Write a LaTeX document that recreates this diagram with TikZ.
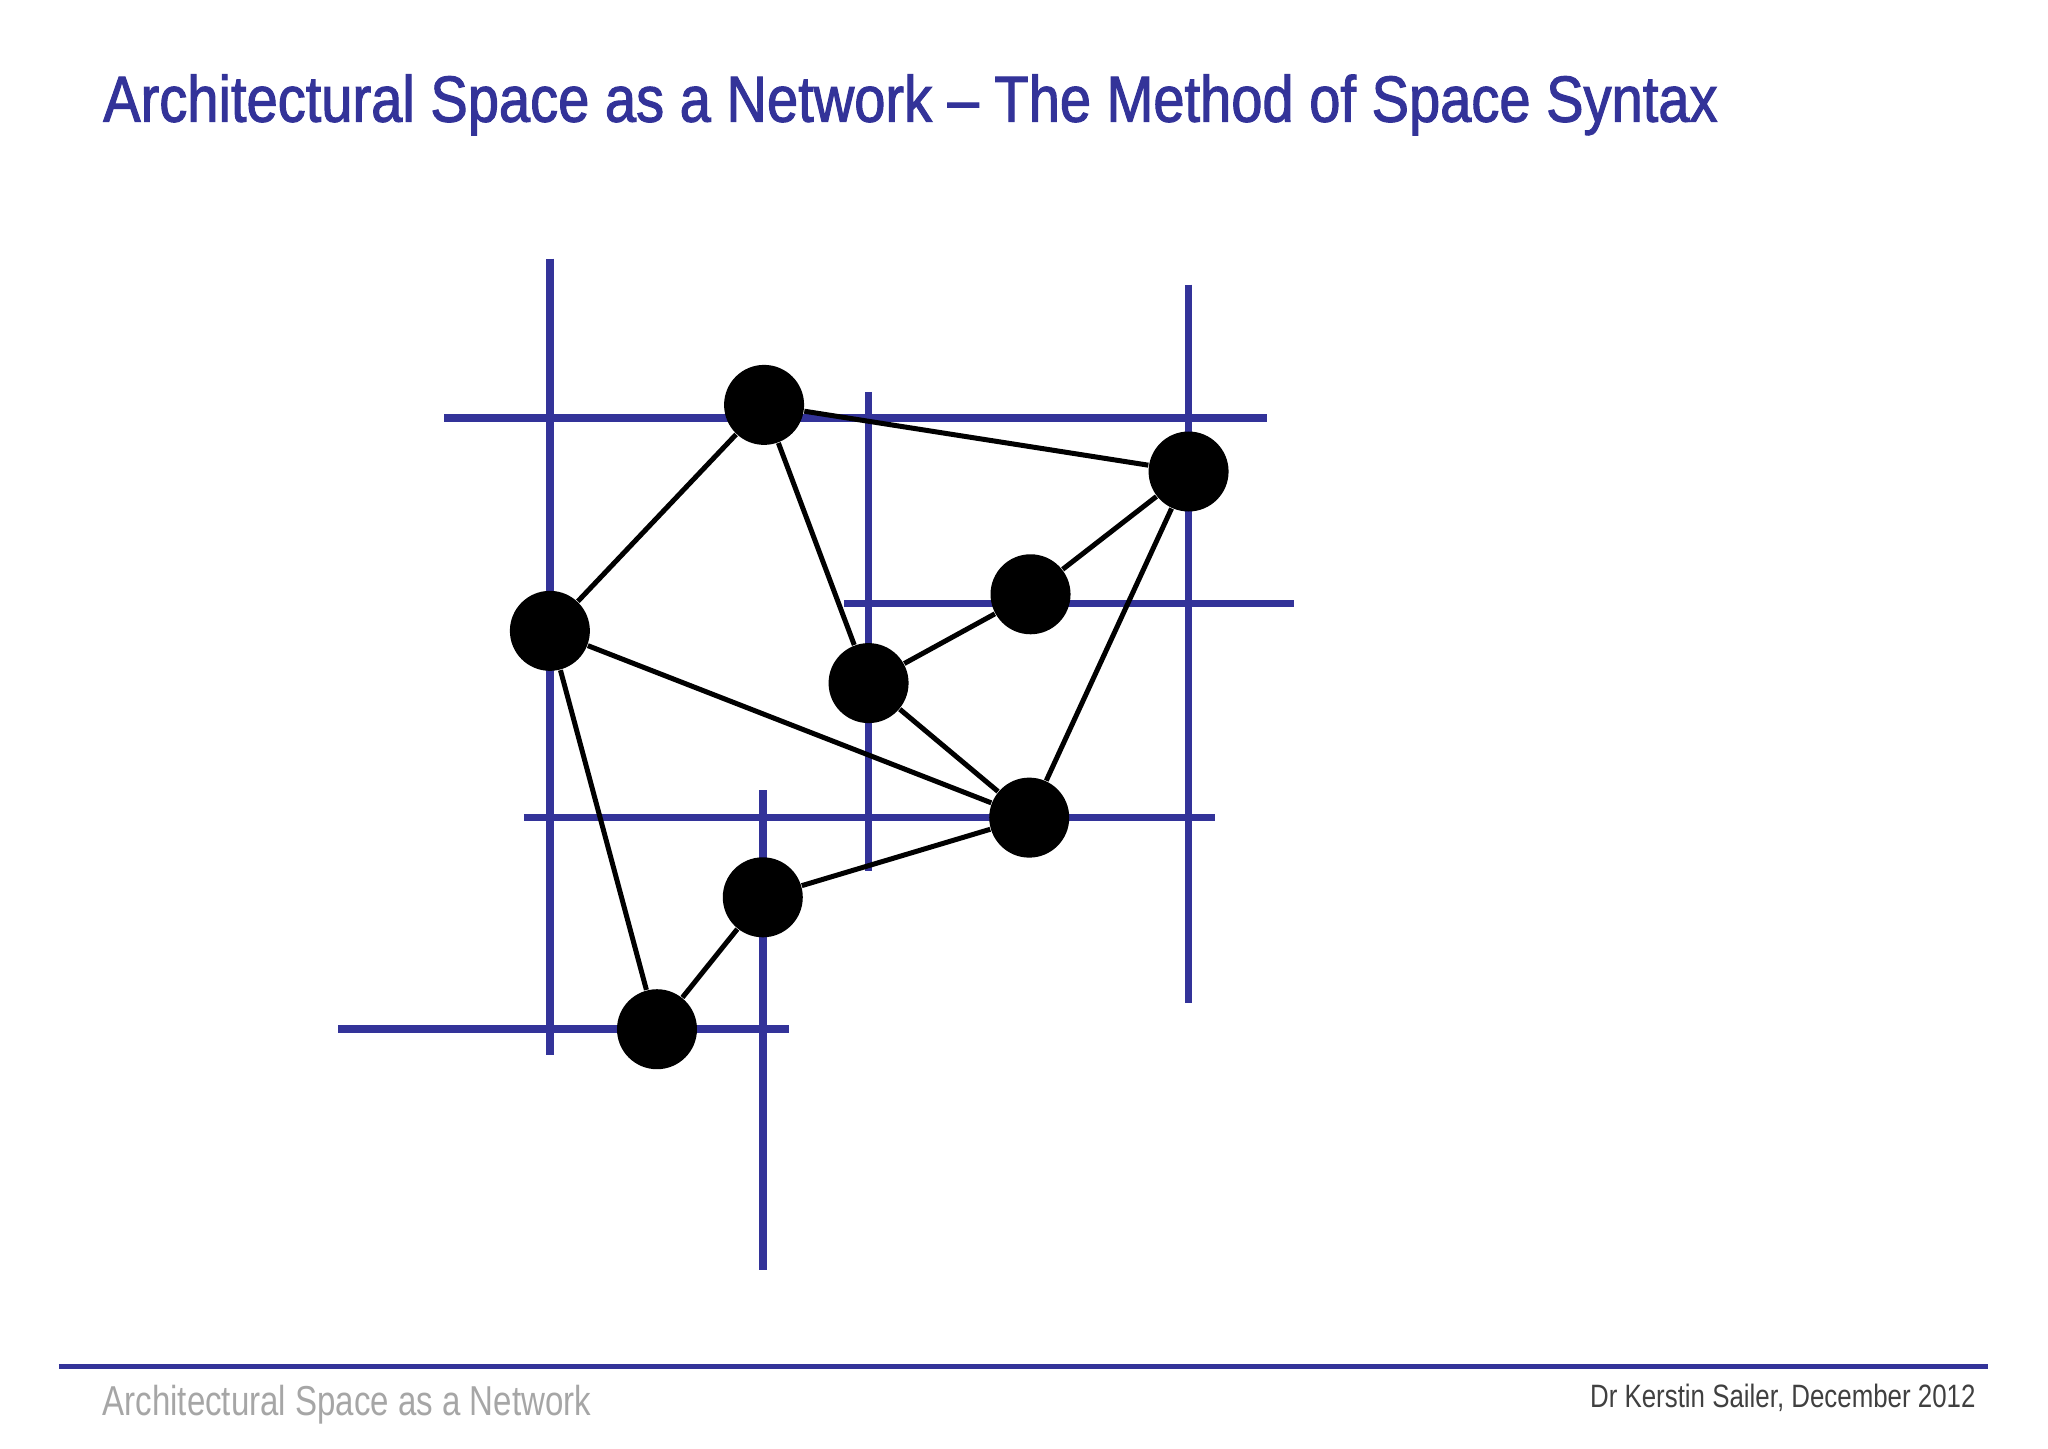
\documentclass[tikz,border=0pt]{standalone}
\usepackage{fontspec}
\setmainfont{Liberation Sans}
\newfontfamily\titlesans{Liberation Sans}[FakeStretch=0.86,FakeBold=1.6]
\newfontfamily\footsans{Liberation Sans}[FakeStretch=0.79]
\newfontfamily\namesans{Liberation Sans}[FakeStretch=0.8]
\definecolor{syntaxblue}{RGB}{51,51,153}
\definecolor{footgray}{RGB}{166,166,166}
\definecolor{namegray}{RGB}{64,64,64}

\begin{document}
\begin{tikzpicture}[x=0.1306mm,y=-0.1306mm,
    spot/.style={circle,fill=black,inner sep=0pt,minimum size=8mm},
    axial/.style={syntaxblue,line width=0.75mm},
    link/.style={black,line width=0.5mm}]
    \useasboundingbox (0,0) rectangle (1568,1109);

    % axial lines
    \draw[axial] (421,198) -- (421,808);
    \draw[axial] (665,300) -- (665,667);
    \draw[axial] (910,218) -- (910,768);
    \draw[axial] (584,605) -- (584,972);
    \draw[axial] (340,320) -- (970,320);
    \draw[axial] (646,462) -- (991,462);
    \draw[axial] (401,626) -- (930,626);
    \draw[axial] (259,788) -- (604,788);

    % spaces
    \node[spot] (A) at (585,310) {};
    \node[spot] (B) at (910,361) {};
    \node[spot] (C) at (789,455) {};
    \node[spot] (D) at (421,483) {};
    \node[spot] (E) at (665,523) {};
    \node[spot] (F) at (788,626) {};
    \node[spot] (G) at (584,687) {};
    \node[spot] (H) at (503,788) {};

    \foreach \from/\to in {A/D, A/E, A/B, B/C, B/F, C/E, E/F, D/F, D/H, H/G, G/F}
      \draw[link] (\from) -- (\to);

    % title and footer
    \node[anchor=base west,inner sep=0pt,text=syntaxblue,font=\titlesans\fontsize{18.55}{22}\selectfont] (title) at (78.5,93.2) {Architectural Space as a Network – The Method of Space Syntax};
    \draw[syntaxblue,line width=0.5mm] (45,1046) -- (1522,1046);
    \node[anchor=base west,inner sep=0pt,text=footgray,font=\footsans\fontsize{11.9}{14}\selectfont] (topic) at (78,1083.4) {Architectural Space as a Network};
    \node[anchor=base east,inner sep=0pt,text=namegray,font=\namesans\fontsize{9.2}{11}\selectfont] (author) at (1513,1077.5) {Dr Kerstin Sailer, December 2012};
\end{tikzpicture}
\end{document}
